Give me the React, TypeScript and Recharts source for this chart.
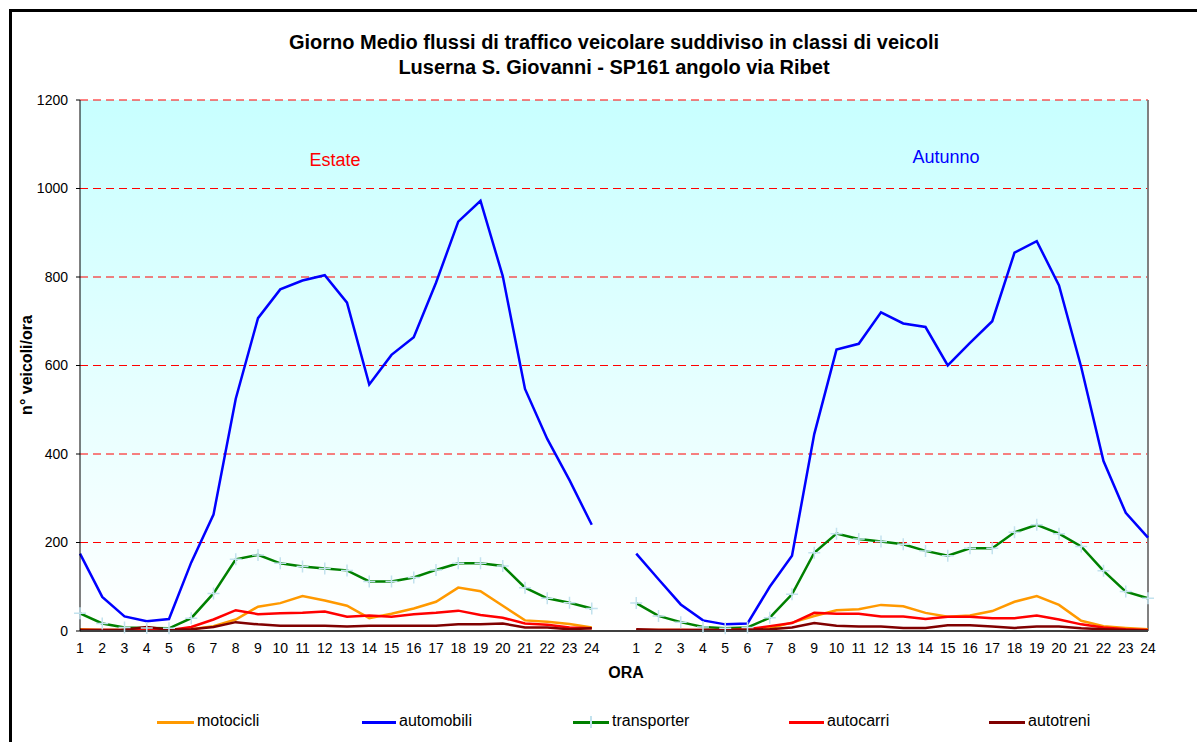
import React from 'react';
import { LineChart, Line, XAxis, YAxis, CartesianGrid, ReferenceLine } from 'recharts';

const hours = ['1','2','3','4','5','6','7','8','9','10','11','12','13','14','15','16','17','18','19','20','21','22','23','24'];

const estMotocicli = [4,2,2,2,2,4,11,26,55,63,79,69,57,29,39,51,66,98,90,57,24,21,16,8];
const estAutomobili = [175,77,33,22,27,155,263,525,707,772,792,804,742,557,624,664,787,925,972,802,547,434,341,240];
const estTransporter = [40,17,8,7,6,29,85,162,172,153,146,141,137,112,112,121,138,153,153,147,98,74,64,51];
const estAutocarri = [2,2,2,2,2,9,26,47,38,40,41,44,32,35,32,38,41,46,36,30,17,14,8,6];
const estAutotreni = [2,2,3,9,3,4,9,20,15,12,12,12,10,12,12,12,12,15,15,17,8,8,4,6];

const autMotocicli = [2,2,2,1,1,2,6,19,34,47,49,59,56,41,32,35,45,66,79,59,23,11,7,4];
const autAutomobili = [175,117,60,24,15,17,100,170,445,636,649,720,695,687,600,651,700,855,881,781,596,384,267,211];
const autTransporter = [63,34,20,9,6,8,30,83,177,220,208,202,196,181,170,187,187,223,240,220,191,136,89,74];
const autAutocarri = [2,2,2,2,2,4,11,18,41,39,39,33,33,27,32,32,29,29,35,26,15,8,4,2];
const autAutotreni = [4,2,2,2,1,3,4,8,18,12,10,10,7,7,13,13,10,7,10,10,6,4,2,1];

const yTicks = [0,200,400,600,800,1000,1200];

const seriesDefs = [
  { key: 'motocicli', color: '#ff9900', est: estMotocicli, aut: autMotocicli },
  { key: 'automobili', color: '#0000ff', est: estAutomobili, aut: autAutomobili },
  { key: 'transporter', color: '#008000', est: estTransporter, aut: autTransporter },
  { key: 'autocarri', color: '#ff0000', est: estAutocarri, aut: autAutocarri },
  { key: 'autotreni', color: '#800000', est: estAutotreni, aut: autAutotreni },
];

const data: any[] = [];
hours.forEach((h, i) => {
  const row: any = { idx: i, label: h };
  seriesDefs.forEach(s => { row[s.key] = s.est[i]; });
  data.push(row);
});
{
  const row: any = { idx: 24, label: '' };
  seriesDefs.forEach(s => { row[s.key] = null; });
  data.push(row);
}
hours.forEach((h, i) => {
  const row: any = { idx: 25 + i, label: h };
  seriesDefs.forEach(s => { row[s.key] = s.aut[i]; });
  data.push(row);
});
const labelByIdx = data.map(d => d.label);

const FONT = '"Liberation Sans", Arial, sans-serif';

const PlusDot = (props: any) => {
  const { cx, cy } = props;
  if (cx == null || cy == null || isNaN(cx) || isNaN(cy)) return <g />;
  const r = 6;
  return (
    <path d={`M${cx - r},${cy}L${cx + r},${cy}M${cx},${cy - r}L${cx},${cy + r}`} stroke="#c2e2ee" strokeWidth={1.5} fill="none" />
  );
};

export default function App() {
  const legendItems = [
    { name: 'motocicli', color: '#ff9900', lx: 157, tx: 197 },
    { name: 'automobili', color: '#0000ff', lx: 362, tx: 399 },
    { name: 'transporter', color: '#008000', lx: 573, tx: 612 },
    { name: 'autocarri', color: '#ff0000', lx: 789, tx: 827 },
    { name: 'autotreni', color: '#800000', lx: 989, tx: 1028 },
  ];
  return (
    <div style={{ position: 'fixed', left: 0, top: 0, width: 1197, height: 742, overflow: 'hidden', background: '#fff', fontFamily: FONT }}>
      <div style={{ position: 'absolute', left: 9, top: 9, width: 1400, height: 1000, borderLeft: '3px solid #000', borderTop: '3px solid #000' }} />
      <div style={{ position: 'absolute', left: 80, top: 100, width: 1068, height: 531, background: 'linear-gradient(to bottom, #c8ffff 0%, #ffffff 100%)' }} />
      <div style={{ position: 'absolute', left: 0, width: 1228, top: 30, textAlign: 'center', fontWeight: 'bold', fontSize: 20, lineHeight: '25px', color: '#000' }}>
        <div>Giorno Medio flussi di traffico veicolare suddiviso in classi di veicoli</div>
        <div>Luserna S. Giovanni - SP161 angolo via Ribet</div>
      </div>
      <div style={{ position: 'absolute', left: 290, top: 150, width: 90, textAlign: 'center', fontSize: 18, color: '#ff0000' }}>Estate</div>
      <div style={{ position: 'absolute', left: 896, top: 147, width: 100, textAlign: 'center', fontSize: 18, color: '#0000ff' }}>Autunno</div>
      <div style={{ position: 'absolute', left: 27, top: 365, transform: 'translate(-50%, -50%) rotate(-90deg)', whiteSpace: 'nowrap', fontWeight: 'bold', fontSize: 16, color: '#000' }}>n° veicoli/ora</div>
      <div style={{ position: 'absolute', left: 626, top: 673, transform: 'translate(-50%, -50%)', fontWeight: 'bold', fontSize: 16, color: '#000' }}>ORA</div>
      {legendItems.map(it => (
        <React.Fragment key={it.name}>
          <div style={{ position: 'absolute', left: it.lx, top: 721, width: it.tx - it.lx - 3, height: 3, background: it.color }} />
          {it.name === 'transporter' && (
            <div style={{ position: 'absolute', left: (it.lx + it.tx - 3) / 2 - 1, top: 716, width: 1.5, height: 12, background: '#c2e2ee' }} />
          )}
          <div style={{ position: 'absolute', left: it.tx, top: 712, fontSize: 16, color: '#000', whiteSpace: 'nowrap' }}>{it.name}</div>
        </React.Fragment>
      ))}
      <div style={{ position: 'absolute', left: 0, top: 0 }}>
        <LineChart width={1197} height={742} data={data} margin={{ top: 100, right: 49, bottom: 81, left: 20 }}>
          <CartesianGrid horizontal={true} vertical={false} stroke="#ff0000" strokeDasharray="8 5" strokeWidth={1} />
          <ReferenceLine x={48} stroke="#808080" strokeWidth={2} ifOverflow="extendDomain" />
          <XAxis
            dataKey="idx"
            type="category"
            scale="point"
            padding={{ left: 0, right: 0 }}
            interval={0}
            tickLine={false}
            tickSize={8}
            tickMargin={4}
            axisLine={{ stroke: '#404040', strokeWidth: 2 }}
            tickFormatter={(v: any) => labelByIdx[v] ?? ''}
            tick={{ fill: '#000', fontSize: 14, fontFamily: FONT }}
            height={30}
          />
          <YAxis
            type="number"
            domain={[0, 1200]}
            ticks={yTicks}
            interval={0}
            width={60}
            tickSize={4}
            tickMargin={8}
            axisLine={{ stroke: '#000', strokeWidth: 1 }}
            tickLine={{ stroke: '#000' }}
            tick={{ fill: '#000', fontSize: 14, fontFamily: FONT }}
          />
          {seriesDefs.map(s => (
            <Line
              key={s.key}
              dataKey={s.key}
              type="linear"
              stroke={s.color}
              strokeWidth={2.5}
              dot={s.key === 'transporter' ? <PlusDot /> : false}
              activeDot={false}
              isAnimationActive={false}
              connectNulls={false}
            />
          ))}
        </LineChart>
      </div>
    </div>
  );
}
